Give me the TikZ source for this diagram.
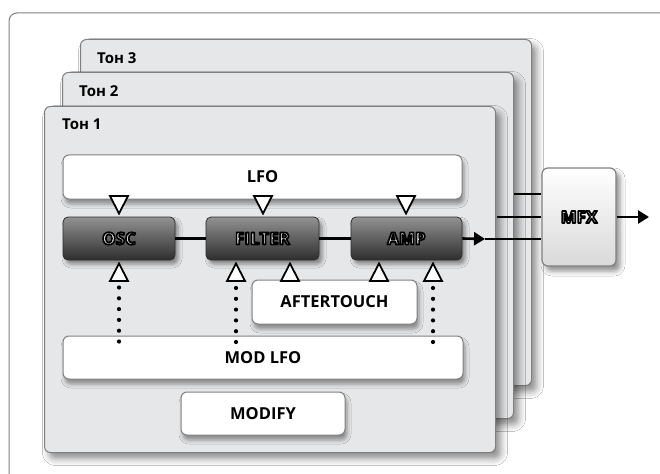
\documentclass[tikz,border=0pt]{standalone}
\usepackage{fontspec}
\setmainfont{Open Sans}
\usetikzlibrary{arrows.meta,shadows.blur}
\definecolor{panelfill}{HTML}{E6E7E8}
\definecolor{edge}{HTML}{808080}
\definecolor{darktop}{HTML}{929292}
\definecolor{darkbot}{HTML}{2E2E2E}
\newcommand\outlinedtext[1]{\special{pdf:literal direct q 2 Tr 0 0 0 RG 1.7 w 1 j}#1\special{pdf:literal direct Q}}
\begin{document}
\begin{tikzpicture}[x=1pt,y=-1pt,
  frame/.style={draw=edge, line width=1pt, fill=white, rounded corners=8pt},
  panel/.style={draw=edge, line width=1pt, fill=panelfill, rounded corners=6pt, inner sep=0pt, anchor=north west,
    minimum width=451pt, minimum height=346pt,
    blur shadow={shadow xshift=5pt, shadow yshift=-6pt, shadow blur radius=7pt, shadow opacity=45}},
  tonlabel/.style={anchor=west, inner sep=0pt, font=\fontsize{15}{17}\selectfont\bfseries},
  wbox/.style={draw=edge, line width=1pt, fill=white, rounded corners=6pt, inner sep=0pt,
    font=\fontsize{16.5}{18}\selectfont\bfseries,
    blur shadow={shadow xshift=2pt, shadow yshift=-5pt, shadow blur radius=4pt, shadow opacity=40}},
  dbox/.style={draw=darkbot, line width=0.8pt, top color=darktop, bottom color=darkbot, rounded corners=5pt,
    inner sep=0pt, minimum height=43pt, text=white, font=\fontsize{17}{18}\selectfont\bfseries,
    blur shadow={shadow xshift=3pt, shadow yshift=-4pt, shadow blur radius=4pt, shadow opacity=45}},
  mbox/.style={draw=edge, line width=1.2pt, top color=white, bottom color=black!15, rounded corners=6pt,
    inner sep=0pt, text=white, font=\fontsize{17}{18}\selectfont\bfseries,
    blur shadow={shadow xshift=4pt, shadow yshift=-5pt, shadow blur radius=5pt, shadow opacity=45}},
  conn/.style={draw=black, line width=2.6pt},
  tip/.style={-{Triangle[length=11pt,width=13pt]}},
  tri/.style={draw=black, line width=1.8pt, fill=white, line join=miter},
  dots/.style={draw=black, line width=4.2pt, line cap=round, dash pattern=on 0pt off 10.8pt}
]
\useasboundingbox (0,0) rectangle (660,473);
\clip (0,0) rectangle (660,473);
\fill[white] (0,0) rectangle (660,473);
\draw[frame] (9,13) rectangle (720,520);

% panels
\node[panel] (ton3) at (80,39) {};
\node[tonlabel] (l3) at (97,58) {Тон 3};
\node[panel] (ton2) at (62,72) {};
\node[tonlabel] (l2) at (79,91) {Тон 2};
\node[panel] (ton1) at (44,106) {};
\node[tonlabel] (l1) at (62,124) {Тон 1};

% MFX
\node[mbox, minimum width=74pt, minimum height=98pt] (mfx) at (579,217) {\outlinedtext{MFX}};

% boxes
\node[wbox, minimum width=399pt, minimum height=44pt] (lfo) at (262.5,177) {LFO};
\node[dbox, minimum width=112pt] (osc) at (119,238.5) {\outlinedtext{OSC}};
\node[dbox, minimum width=113pt] (filter) at (262.5,238.5) {\outlinedtext{FILTER}};
\node[dbox, minimum width=111pt] (amp) at (406.5,238.5) {\outlinedtext{AMP}};
\node[wbox, minimum width=165pt, minimum height=44pt] (after) at (334.5,302) {AFTERTOUCH};
\node[wbox, minimum width=400pt, minimum height=43pt] (modlfo) at (263,357.5) {MOD LFO};
\node[wbox, minimum width=164pt, minimum height=43pt] (modify) at (263,413.5) {MODIFY};

% signal chain
\draw[conn] (osc.east) -- (filter.west);
\draw[conn] (filter.east) -- (amp.west);
\coordinate (a1) at (485,239);
\coordinate (s2) at (497,217);
\coordinate (s3) at (514,194);
\draw[conn] (a1) -- (a1 -| mfx.west);
\draw[conn] (s2) -- (s2 -| mfx.west);
\draw[conn] (s3) -- (s3 -| mfx.west);
\draw[conn, tip] (amp.east) -- (a1);
\coordinate (out) at (649,217);
\draw[conn, tip] (mfx.east) -- (out);

% LFO triangles (down)
\foreach \x in {119,263,406}{
  \draw[tri] (\x-9,196) -- (\x+9,196) -- (\x,213.5) -- cycle;
}
% up triangles
\foreach \x in {119,236,290,379,433}{
  \draw[tri] (\x-9,281) -- (\x+9,281) -- (\x,263.5) -- cycle;
}
% dotted links from MOD LFO
\draw[dots] ([yshift=-6pt]modlfo.north -| osc.south) -- ++(0,-54);
\coordinate (f1) at (236,342);
\coordinate (a2) at (433,342);
\draw[dots] (f1) -- ++(0,-54);
\draw[dots] (a2) -- ++(0,-54);
\end{tikzpicture}
\end{document}
